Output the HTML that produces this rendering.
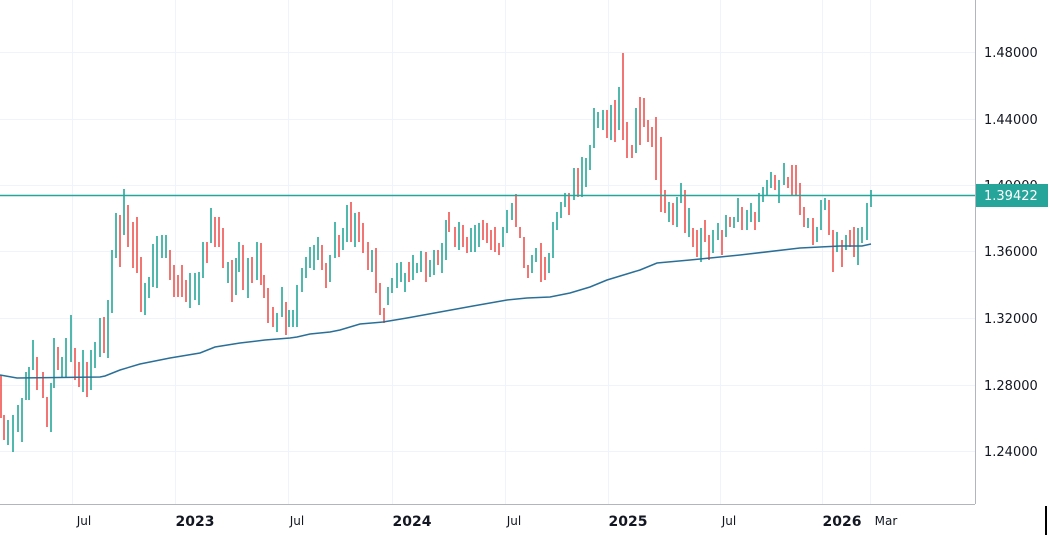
<!DOCTYPE html>
<html><head><meta charset="utf-8"><style>
html,body{margin:0;padding:0;background:#fff;}
svg{display:block;font-family:"DejaVu Sans","Liberation Sans",sans-serif;}
</style></head><body>
<svg width="1048" height="535" viewBox="0 0 1048 535" xmlns="http://www.w3.org/2000/svg">
<rect width="1048" height="535" fill="#fff"/>
<g stroke="#f0f3fa" stroke-width="1">
<line x1="0" y1="52.5" x2="975" y2="52.5"/><line x1="0" y1="119.5" x2="975" y2="119.5"/>
<line x1="0" y1="185.5" x2="975" y2="185.5"/><line x1="0" y1="251.5" x2="975" y2="251.5"/>
<line x1="0" y1="318.5" x2="975" y2="318.5"/><line x1="0" y1="385.5" x2="975" y2="385.5"/>
<line x1="0" y1="451.5" x2="975" y2="451.5"/>
<line x1="72.5" y1="0" x2="72.5" y2="504"/><line x1="175.5" y1="0" x2="175.5" y2="504"/>
<line x1="288.5" y1="0" x2="288.5" y2="504"/><line x1="392.5" y1="0" x2="392.5" y2="504"/>
<line x1="505.5" y1="0" x2="505.5" y2="504"/><line x1="608.5" y1="0" x2="608.5" y2="504"/>
<line x1="720.5" y1="0" x2="720.5" y2="504"/><line x1="822.5" y1="0" x2="822.5" y2="504"/>
<line x1="870.5" y1="0" x2="870.5" y2="504"/>
</g>
<path fill="none" stroke="#ef5350" stroke-width="1.6" d="M1 375V418M4 415V440M37 357V390M43 372V398M47 397V427M58 347V370M75 348V380M79 362V387M87 362V397M104 317V353M120 215V267M128 205V247M133 222V268M137 217V273M141 257V312M170 250V280M174 265V297M178 275V297M182 265V297M186 280V302M207 242V263M215 217V247M219 217V247M223 228V268M232 260V302M243 245V290M252 257V283M261 243V285M264 275V298M268 288V323M273 307V327M286 302V335M322 245V270M326 263V288M339 235V257M351 202V242M359 212V242M363 223V253M368 242V270M376 248V293M380 283V315M384 308V323M409 262V282M426 252V282M438 250V265M449 212V232M455 227V247M463 225V247M467 237V253M483 220V240M487 223V243M491 230V250M495 227V252M499 243V255M516 194V227M520 227V238M524 237V268M528 265V278M541 243V282M545 257V280M569 193V215M578 168V197M607 110V138M615 100V142M623 53V140M627 122V158M632 145V158M640 97V145M644 98V127M648 120V142M652 127V147M656 117V180M661 137V212M665 190V213M673 203V225M685 190V233M693 228V247M697 230V257M705 220V242M709 235V260M722 230V255M730 217V227M742 207V230M755 212V230M775 175V190M788 177V188M792 165V195M796 165V195M800 183V215M804 207V227M813 218V245M829 200V235M833 230V272M842 240V267M850 230V247M854 227V257"/>
<path fill="none" stroke="#26a69a" stroke-width="1.6" d="M8 420V445M13 415V452M18 405V432M22 398V442M26 372V400M29 367V400M33 340V370M51 383V432M54 338V388M62 357V377M66 338V378M71 315V362M83 350V392M91 350V390M95 342V368M100 318V357M108 300V358M112 250V313M116 213V258M124 189V235M145 283V315M149 277V298M153 244V287M157 236V288M162 235V258M166 235V258M190 273V308M195 273V300M199 272V305M203 242V278M211 208V243M228 262V283M236 258V295M239 242V272M248 258V298M257 242V280M277 313V332M282 287V317M289 310V327M293 310V327M297 285V327M302 268V292M306 257V278M310 247V268M314 245V270M318 237V260M330 255V282M335 222V258M343 228V250M347 205V242M355 213V247M372 250V272M388 287V305M392 278V293M397 263V288M401 262V282M405 273V292M413 255V280M417 263V273M421 251V272M430 260V277M434 250V275M442 243V273M446 220V260M459 222V250M471 228V252M475 225V252M479 223V247M503 227V247M507 210V233M512 203V220M532 255V273M536 248V262M549 253V273M553 222V258M557 212V230M561 202V218M565 193V207M574 168V200M582 157V197M586 158V187M590 145V170M594 108V148M598 112V128M603 110V130M611 105V140M619 87V130M636 108V153M669 202V222M677 197V227M681 183V203M689 208V237M701 228V262M713 230V253M718 223V240M726 215V237M734 217V228M738 198V222M747 210V230M751 203V222M759 193V222M763 187V202M767 180V195M771 172V188M779 180V203M784 163V185M808 218V228M817 227V242M821 200V230M825 198V210M837 232V252M846 235V250M858 228V265M862 227V243M867 203V240M871 190V207"/>
<polyline fill="none" stroke="#2a6f97" stroke-width="1.5" points="0,375 17,378 100,377 105,376 120,370 140,364 170,358 200,353 215,347 240,343 265,340 290,338 297,337 310,334 330,332 340,330 360,324 383,322 407,318 440,312 473,306 507,300 527,298 550,297 570,293 590,287 607,280 640,270 657,263 690,260 740,255 800,248 840,246 862,246 871,244"/>
<line x1="0" y1="195.5" x2="975" y2="195.5" stroke="#26a69a" stroke-width="1.5"/>
<line x1="975.5" y1="0" x2="975.5" y2="504" stroke="#b2b5be"/>
<line x1="0" y1="504.5" x2="975" y2="504.5" stroke="#b2b5be"/>
<g font-size="13" fill="#131722">
<text x="984" y="57">1.48000</text><text x="984" y="124">1.44000</text>
<text x="984" y="190">1.40000</text><text x="984" y="256">1.36000</text>
<text x="984" y="323">1.32000</text><text x="984" y="390">1.28000</text>
<text x="984" y="456">1.24000</text>
</g>
<rect x="976" y="184" width="72" height="23" fill="#26a69a"/>
<text x="984" y="200" font-size="13" fill="#fff">1.39422</text>
<g font-size="12" fill="#131722" text-anchor="middle">
<text x="84" y="525">Jul</text><text x="195" y="526" font-weight="bold" font-size="14">2023</text>
<text x="297" y="525">Jul</text><text x="412" y="526" font-weight="bold" font-size="14">2024</text>
<text x="514" y="525">Jul</text><text x="628" y="526" font-weight="bold" font-size="14">2025</text>
<text x="729" y="525">Jul</text><text x="842" y="526" font-weight="bold" font-size="14">2026</text>
<text x="886" y="525">Mar</text>
</g>
<line x1="1046" y1="506" x2="1046" y2="535" stroke="#000" stroke-width="2"/>
</svg>
</body></html>
